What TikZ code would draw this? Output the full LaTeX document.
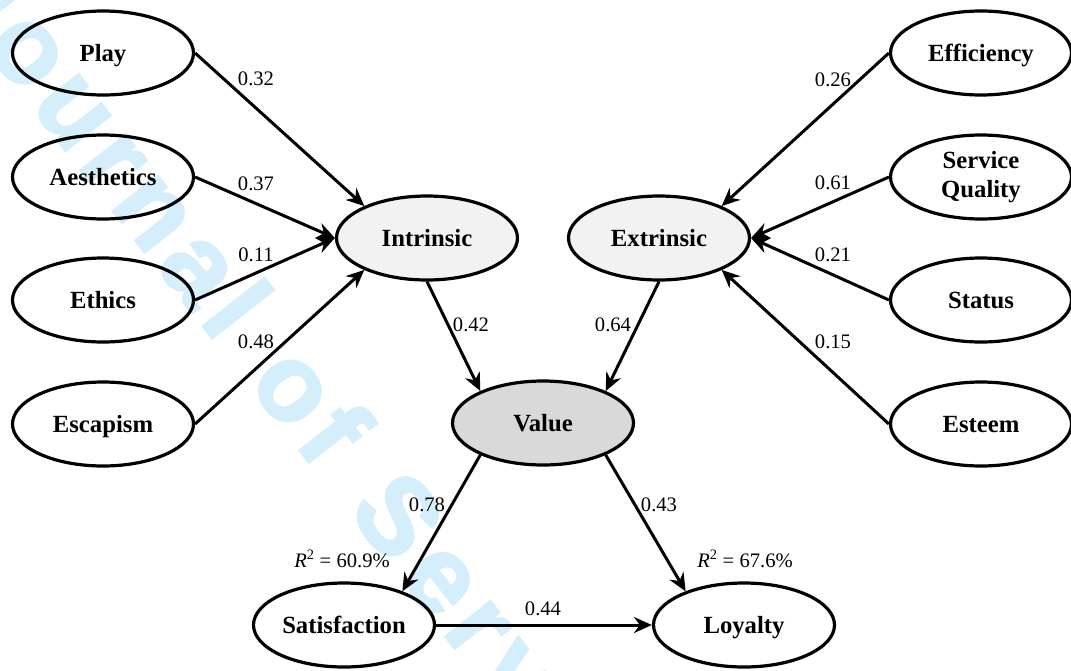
\documentclass[tikz,border=0pt]{standalone}
\usepackage{fontspec}
\setmainfont{Liberation Serif}
\newfontfamily\wmfont[FakeBold=2.5]{Liberation Sans Bold}
\usetikzlibrary{shapes.geometric,arrows.meta}
\definecolor{wmblue}{RGB}{213,238,251}
\definecolor{lightfill}{RGB}{242,242,242}
\definecolor{valfill}{RGB}{217,217,217}
\begin{document}
\begin{tikzpicture}[x=1pt,y=-1pt,
  latbase/.style={ellipse, draw, line width=3.2pt, minimum width=181pt, minimum height=84pt,
    inner sep=0pt, align=center, font=\fontsize{24.7}{29}\selectfont\bfseries},
  lat/.style={latbase, text height=17pt, text depth=0pt},
  inner/.style={lat, fill=lightfill},
  valnode/.style={lat, fill=valfill},
  arr/.style={line width=3pt, -{Stealth[length=18pt,width=16pt,inset=6pt]}},
  num/.style={inner sep=0pt, font=\fontsize{20.6}{24}\selectfont},
  wmletter/.style={anchor=base west, rotate=-52, inner sep=0pt, text=wmblue,
    font=\wmfont\fontsize{108}{120}\selectfont}
]
\useasboundingbox (0,0) rectangle (1071,670);
\begin{scope}
  \clip (0,0) rectangle (1071,670);
  \foreach \ch/\s [count=\k] in {J/0, o/69.5, u/145, r/221, n/273, a/349,
      l/419, o/498, f/574, S/660, e/743, r/813, v/865, i/936}
    \node[wmletter] (wm\k) at ({-60+0.616*\s},{-10+0.788*\s}) {\ch};
\end{scope}

% left indicators
\node[lat] (play) at (103,53) {Play};
\node[lat] (aest) at (103,177) {Aesthetics};
\node[lat] (ethi) at (103,300) {Ethics};
\node[lat] (esca) at (103,424) {Escapism};
% right indicators
\node[lat] (effi) at (981,53) {Efficiency};
\node[latbase] (serv) at (981,177) {Service\\Quality};
\node[lat] (stat) at (981,300) {Status};
\node[lat] (este) at (981,424) {Esteem};
% constructs
\node[inner] (intr) at (427,238) {Intrinsic};
\node[inner] (extr) at (659,238) {Extrinsic};
\node[valnode] (valu) at (543,423) {Value};
\node[lat] (sati) at (344,625) {Satisfaction};
\node[lat] (loya) at (744,625) {Loyalty};

% connectors
\draw[arr] (play.east) -- (intr.153);
\draw[arr] (aest.east) -- (intr.west);
\draw[arr] (ethi.east) -- (intr.west);
\draw[arr] (esca.east) -- (intr.207);
\draw[arr] (effi.west) -- (extr.27);
\draw[arr] (serv.west) -- (extr.east);
\draw[arr] (stat.west) -- (extr.east);
\draw[arr] (este.west) -- (extr.-27);
\draw[arr] (intr.south) -- (valu.153);
\draw[arr] (extr.south) -- (valu.27);
\draw[arr] (valu.207) -- (sati.30);
\draw[arr] (valu.-27) -- (loya.150);
\draw[arr] (sati.east) -- (loya.west);

% labels
\node[num] (n1) at (256,79) {0.32};
\node[num] (n2) at (256,184) {0.37};
\node[num] (n3) at (256,255) {0.11};
\node[num] (n4) at (256,342) {0.48};
\node[num] (n5) at (833,80) {0.26};
\node[num] (n6) at (833,183) {0.61};
\node[num] (n7) at (833,255) {0.21};
\node[num] (n8) at (833,342) {0.15};
\node[num] (n9) at (471,325) {0.42};
\node[num] (n10) at (613,325) {0.64};
\node[num] (n11) at (427,505) {0.78};
\node[num] (n12) at (659,505) {0.43};
\node[num] (n13) at (543,609) {0.44};
\node[num] (r1) at (342,559) {\textit{R}\textsuperscript{2} = 60.9\%};
\node[num] (r2) at (745,559) {\textit{R}\textsuperscript{2} = 67.6\%};
\end{tikzpicture}
\end{document}
